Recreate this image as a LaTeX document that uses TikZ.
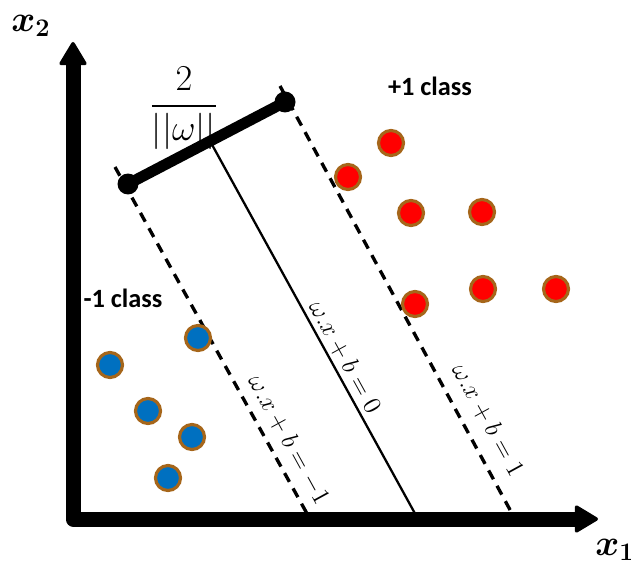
\documentclass[tikz,border=0pt]{standalone}
\usepackage{amsmath}
\usepackage{fontspec}
\usepackage{tikz}
\usetikzlibrary{arrows.meta}
\newfontfamily\classfont{Carlito}
\definecolor{ptRed}{RGB}{255, 0, 0}
\definecolor{ptBlue}{RGB}{0, 112, 192}
\definecolor{ptEdge}{RGB}{166, 102, 26}

\begin{document}
\begin{tikzpicture}[x=0.02cm, y=-0.02cm,
    redpt/.style={circle, fill=ptRed, draw=ptEdge, line width=1.8pt, minimum size=0.5cm, inner sep=0pt},
    bluept/.style={circle, fill=ptBlue, draw=ptEdge, line width=1.8pt, minimum size=0.5cm, inner sep=0pt},
    margin/.style={line width=1.9pt, dash pattern=on 0.2cm off 0.15cm},
    eqlabel/.style={font=\Large, rotate=-61.2, inner sep=0pt},
    classlabel/.style={font=\classfont\bfseries\fontsize{15}{17}\selectfont, inner sep=0pt}]
    \useasboundingbox (0,0) rectangle (631,567);

    % hyperplane and margins
    \coordinate (s1) at (210,141);
    \coordinate (s2) at (418,519);
    \coordinate (l1) at (115,167);
    \coordinate (l2) at (310,519);
    \coordinate (r1) at (280,86);
    \coordinate (r2) at (515,519);
    \draw[line width=1.3pt] (s1) -- (s2);
    \draw[margin] (l1) -- (l2);
    \draw[margin] (r1) -- (r2);

    % margin width
    \coordinate (ma) at (128,184);
    \coordinate (mb) at (285,102);
    \draw[line width=0.22cm] (ma) -- (mb);
    \fill (ma) circle (0.21cm);
    \fill (mb) circle (0.21cm);
    \node[font=\huge, inner sep=0pt] (width) at (184,108) {$\dfrac{2}{||\omega||}$};

    % axes
    \coordinate (o) at (73,519);
    \coordinate (ytop) at (73,42);
    \coordinate (xend) at (598,519);
    \draw[line width=0.3cm, line join=round,
          {Triangle[round, length=0.5cm, width=0.58cm, line width=2pt]}-{Triangle[round, length=0.5cm, width=0.58cm, line width=2pt]}]
          (ytop) -- (o) -- (xend);
    \node[font=\huge] (x2) at (31,26) {$\boldsymbol{x}_{\boldsymbol{2}}$};
    \node[font=\huge] (x1) at (615,550) {$\boldsymbol{x}_{\boldsymbol{1}}$};

    % equations
    \node[eqlabel] (eq0) at (345,357) {$\omega.x + b = 0$};
    \node[eqlabel] (eqp) at (488,420) {$\omega.x + b = 1$};
    \node[eqlabel] (eqm) at (289,440) {$\omega.x + b = -1$};

    % classes
    \node[classlabel] (cpos) at (430,86) {+1 class};
    \node[classlabel] (cneg) at (123,298) {-1 class};

    % +1 points
    \node[redpt] (p1) at (391,143) {};
    \node[redpt] (p2) at (348,177) {};
    \node[redpt] (p3) at (411,213) {};
    \node[redpt] (p4) at (482,212) {};
    \node[redpt] (p5) at (415,304) {};
    \node[redpt] (p6) at (483,289) {};
    \node[redpt] (p7) at (556,289) {};

    % -1 points
    \node[bluept] (n1) at (198,338) {};
    \node[bluept] (n2) at (110,365) {};
    \node[bluept] (n3) at (148,411) {};
    \node[bluept] (n4) at (192,437) {};
    \node[bluept] (n5) at (168,478) {};
\end{tikzpicture}
\end{document}
